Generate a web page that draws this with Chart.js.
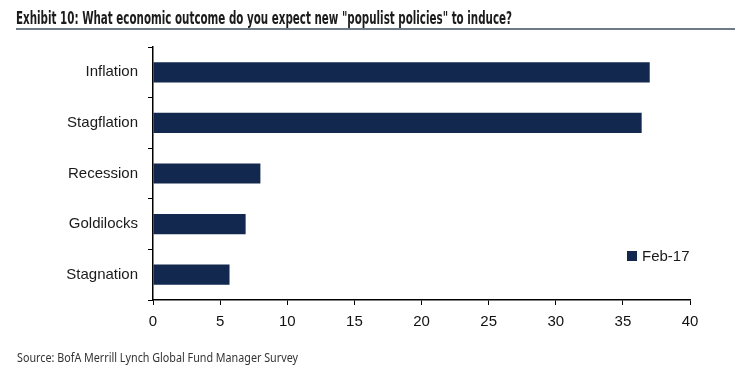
<!DOCTYPE html>
<html>
<head>
<meta charset="utf-8">
<script src="https://cdn.jsdelivr.net/npm/chart.js@4"></script>
<style>
  body { margin: 0; background: #fff; }
  #wrap { position: relative; width: 741px; height: 373px; overflow: hidden; }
  #chartBox { position: absolute; left: 0; top: 0; width: 741px; height: 373px; }
  .fit { position: absolute; white-space: nowrap; transform-origin: 0 0; }
  #title { left: 16px; top: 8px; font: bold 18px "Liberation Sans Narrow", "DejaVu Sans Condensed", sans-serif; color: #1b1b1b; line-height: 20px; }
  #rule { position: absolute; left: 16px; top: 28px; width: 719px; height: 2px; background: #6c7b87; }
  #source { left: 17px; top: 350px; font: 13px "Liberation Sans Narrow", "Noto Sans", sans-serif; color: #333; line-height: 15px; }
</style>
</head>
<body>
<div id="wrap">
  <div id="chartBox"><canvas id="outcomeChart"></canvas></div>
  <div id="title" class="fit" data-w="496">Exhibit 10: What economic outcome do you expect new "populist policies" to induce?</div>
  <div id="rule"></div>
  <div id="source" class="fit" data-w="281">Source: BofA Merrill Lynch Global Fund Manager Survey</div>
</div>
<script>
// survey answers, % of respondents
const outcomes = ['Inflation', 'Stagflation', 'Recession', 'Goldilocks', 'Stagnation'];
const feb17 = [37.0, 36.4, 8.0, 6.9, 5.7];
const seriesLabel = 'Feb-17';
const barColor = '#12284e';

// squeeze the html text to the width it has in the picture
document.querySelectorAll('.fit').forEach(el => {
    const w = el.getBoundingClientRect().width;
    el.style.transform = 'scaleX(' + (Number(el.dataset.w) / w) + ')';
});

// legend sits inside the plot, bottom right
const innerLegend = {
    id: 'innerLegend',
    afterDraw(chart) {
        const ctx = chart.ctx;
        const area = chart.chartArea;
        const ds = chart.data.datasets[0];
        const x = area.right - 63;
        const y = area.bottom - 44;
        ctx.save();
        ctx.fillStyle = ds.backgroundColor;
        ctx.fillRect(x, y - 5, 10, 10);
        ctx.fillStyle = '#1a1a1a';
        ctx.font = '15px "Liberation Sans", Arial, sans-serif';
        ctx.textBaseline = 'middle';
        ctx.fillText(ds.label, x + 15, y + 1);
        ctx.restore();
    }
};

const ctx = document.getElementById('outcomeChart').getContext('2d');
new Chart(ctx, {
    type: 'bar',
    data: {
        labels: outcomes,
        datasets: [{
            label: seriesLabel,
            data: feb17,
            backgroundColor: barColor,
            barPercentage: 0.4,
            categoryPercentage: 1
        }]
    },
    options: {
        indexAxis: 'y',
        responsive: true,
        maintainAspectRatio: false,
        animation: false,
        layout: { padding: { top: 47, right: 51, bottom: 0, left: 0 } },
        plugins: {
            legend: { display: false },
            tooltip: { enabled: false }
        },
        scales: {
            x: {
                min: 0,
                max: 40,
                ticks: {
                    stepSize: 5,
                    color: '#111',
                    padding: 8,
                    font: { family: '"Liberation Sans", Arial, sans-serif', size: 15 }
                },
                grid: { drawOnChartArea: false, tickLength: 5, color: '#000' },
                border: { color: '#000', width: 1.5 },
                afterFit(scale) { scale.height = 73; }
            },
            y: {
                ticks: {
                    color: '#1a1a1a',
                    padding: 10,
                    font: { family: '"Liberation Sans", Arial, sans-serif', size: 15 }
                },
                grid: { drawOnChartArea: false, offset: true, tickLength: 5, color: '#000' },
                border: { color: '#000', width: 1.5 },
                afterFit(scale) { scale.width = 153; }
            }
        }
    },
    plugins: [innerLegend]
});
</script>
</body>
</html>
